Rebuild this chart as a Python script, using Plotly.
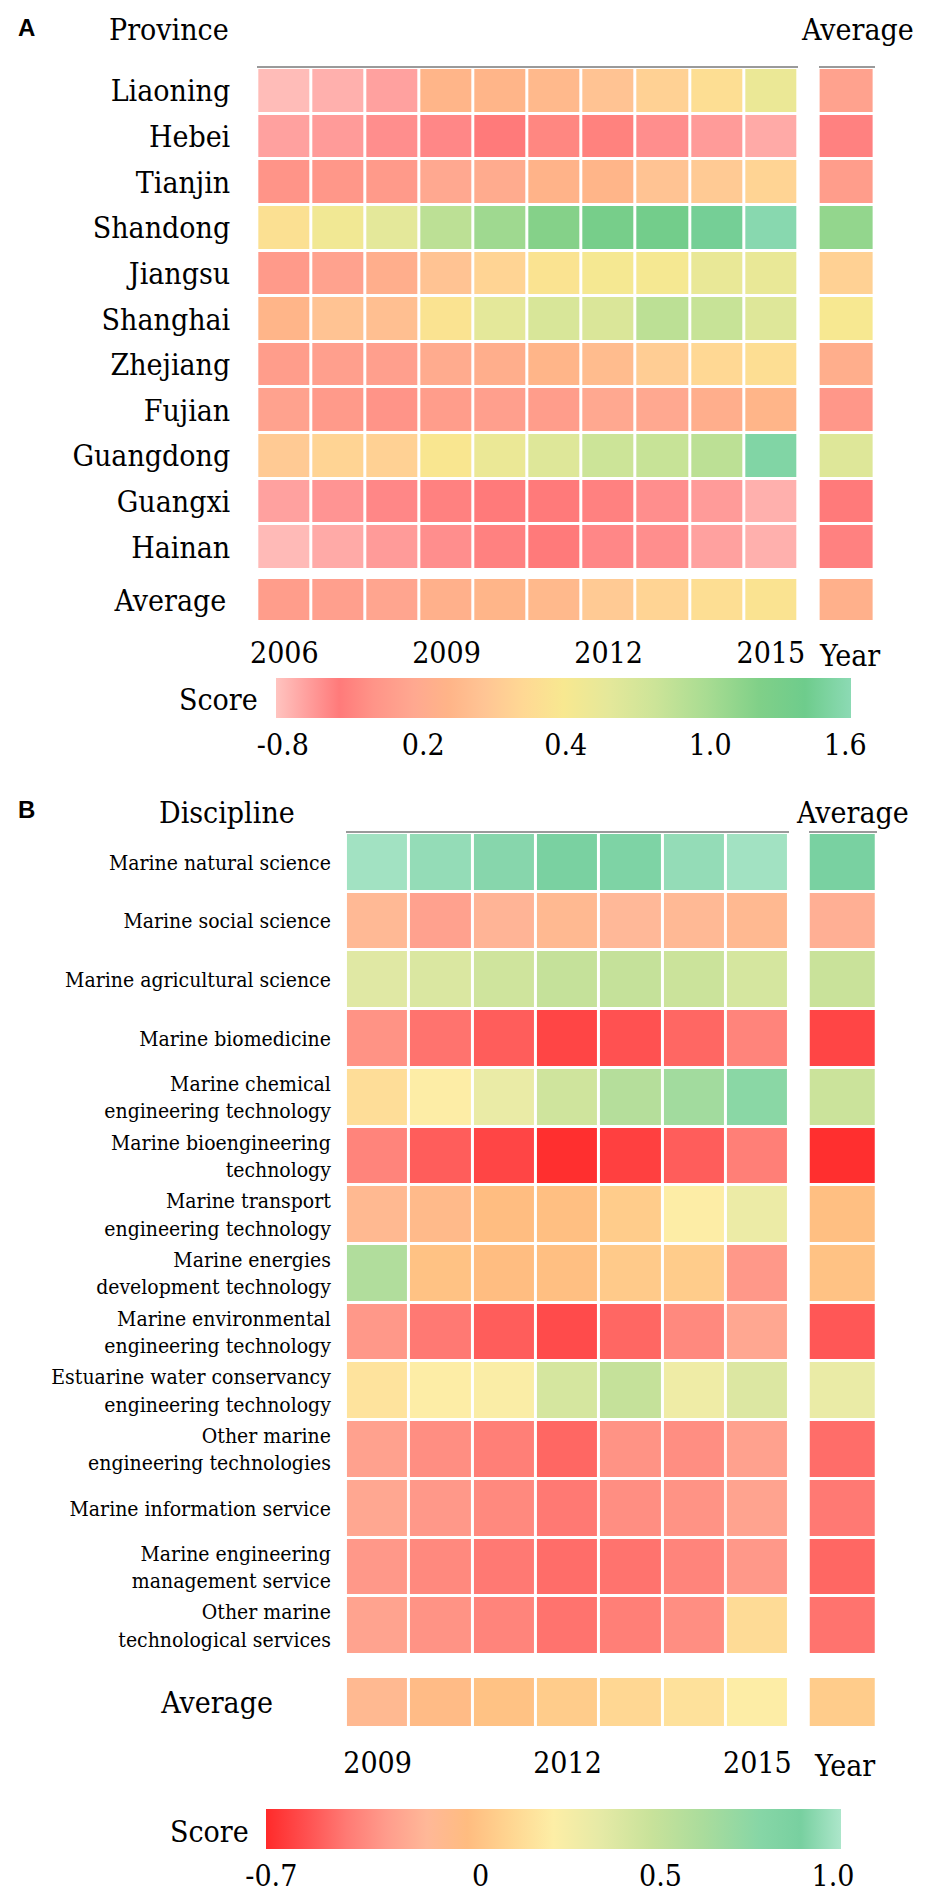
import numpy as np
import plotly.graph_objects as go

# ---------------- data: panel A (provinces) ----------------
years_a = list(range(2006, 2016))
provinces = ["Liaoning", "Hebei", "Tianjin", "Shandong", "Jiangsu", "Shanghai",
             "Zhejiang", "Fujian", "Guangdong", "Guangxi", "Hainan"]
scores_a = [
    [-0.80, -0.73, -0.64, 0.24, 0.24, 0.25, 0.28, 0.32, 0.36, 0.51],
    [-0.64, -0.60, -0.52, -0.48, -0.40, -0.28, -0.32, -0.52, -0.60, -0.69],
    [-0.15, -0.11, -0.07, 0.13, 0.20, 0.23, 0.24, 0.28, 0.30, 0.33],
    [0.37, 0.46, 0.58, 0.87, 1.04, 1.19, 1.32, 1.37, 1.47, 1.60],
    [-0.07, 0.05, 0.21, 0.28, 0.33, 0.38, 0.42, 0.42, 0.53, 0.53],
    [0.24, 0.28, 0.27, 0.38, 0.58, 0.68, 0.66, 0.87, 0.80, 0.63],
    [-0.03, 0.01, 0.01, 0.20, 0.21, 0.24, 0.26, 0.31, 0.34, 0.36],
    [0.05, -0.07, -0.15, -0.03, 0.01, -0.03, 0.13, 0.13, 0.21, 0.24],
    [0.30, 0.33, 0.32, 0.39, 0.51, 0.63, 0.77, 0.80, 0.87, 1.55],
    [-0.64, -0.56, -0.48, -0.44, -0.40, -0.40, -0.44, -0.52, -0.60, -0.73],
    [-0.79, -0.69, -0.60, -0.52, -0.44, -0.40, -0.48, -0.52, -0.64, -0.73],
]
avg_province = [0.05, -0.44, -0.03, 1.11, 0.32, 0.40, 0.21, -0.11, 0.63, -0.40, -0.44]
avg_year_a = [-0.03, 0.01, 0.09, 0.22, 0.24, 0.25, 0.30, 0.33, 0.36, 0.38]
avg_all_a = 0.22
year_ticks_a = [2006, 2009, 2012, 2015]

# colour bar of A: labels sit at these fractions of the bar
cbar_a_vals = [-0.8, 0.2, 0.4, 1.0, 1.6]
cbar_a_text = ["-0.8", "0.2", "0.4", "1.0", "1.6"]
cbar_a_pos = [0.012, 0.256, 0.504, 0.755, 0.99]

# ---------------- data: panel B (disciplines) ----------------
years_b = list(range(2009, 2016))
disciplines = [
    "Marine natural science",
    "Marine social science",
    "Marine agricultural science",
    "Marine biomedicine",
    "Marine chemical<br>engineering technology",
    "Marine bioengineering<br>technology",
    "Marine transport<br>engineering technology",
    "Marine energies<br>development technology",
    "Marine environmental<br>engineering technology",
    "Estuarine water conservancy<br>engineering technology",
    "Other marine<br>engineering technologies",
    "Marine information service",
    "Marine engineering<br>management service",
    "Other marine<br>technological services",
]
scores_b = [
    [1.00, 0.97, 0.94, 0.89, 0.92, 0.97, 1.00],
    [-0.16, -0.29, -0.20, -0.14, -0.18, -0.16, -0.14],
    [0.36, 0.39, 0.44, 0.49, 0.49, 0.46, 0.41],
    [-0.35, -0.47, -0.54, -0.62, -0.58, -0.51, -0.41],
    [0.12, 0.20, 0.31, 0.44, 0.57, 0.66, 0.77],
    [-0.41, -0.54, -0.62, -0.72, -0.64, -0.54, -0.43],
    [-0.14, -0.10, -0.04, -0.03, 0.04, 0.20, 0.30],
    [0.59, -0.01, -0.04, -0.03, 0.03, 0.04, -0.33],
    [-0.33, -0.45, -0.54, -0.60, -0.51, -0.39, -0.26],
    [0.15, 0.20, 0.22, 0.41, 0.49, 0.28, 0.38],
    [-0.29, -0.37, -0.43, -0.51, -0.35, -0.37, -0.29],
    [-0.26, -0.33, -0.39, -0.45, -0.37, -0.35, -0.28],
    [-0.33, -0.39, -0.45, -0.49, -0.47, -0.41, -0.33],
    [-0.28, -0.35, -0.41, -0.47, -0.43, -0.37, 0.11],
]
avg_discipline = [0.91, -0.22, 0.47, -0.62, 0.46, -0.70, -0.03, -0.01, -0.56, 0.31,
                  -0.49, -0.45, -0.51, -0.47]
avg_year_b = [-0.14, -0.08, -0.01, 0.04, 0.09, 0.14, 0.20]
avg_all_b = 0.04
year_ticks_b = [2009, 2012, 2015]

cbar_b_vals = [-0.7, 0.0, 0.5, 1.0]
cbar_b_text = ["-0.7", "0", "0.5", "1.0"]
cbar_b_pos = [0.009, 0.373, 0.686, 0.986]

# ---------------- styling ----------------
# the page body adds an 8px margin, so the figure is drawn 8px smaller and
# every reference pixel position is shifted by that offset
OFF = 8
W, H = 928 - OFF, 1892 - OFF
FONT = "DejaVu Serif Condensed, DejaVu Serif, Liberation Serif, serif"

SCALE_A = [
    [0.00, "#ffc4c0"], [0.05, "#ffa2a0"], [0.11, "#ff7a7a"], [0.17, "#ff9488"],
    [0.24, "#ffa890"], [0.30, "#ffb488"], [0.36, "#ffc494"], [0.43, "#ffd894"],
    [0.50, "#f8e890"], [0.58, "#e4e89a"], [0.66, "#cce498"], [0.75, "#a8dc92"],
    [0.84, "#80d088"], [0.92, "#6ecc8c"], [1.00, "#8cdab4"],
]
SCALE_B = [
    [0.00, "#ff2a2a"], [0.07, "#ff5050"], [0.14, "#ff7a74"], [0.21, "#ff9c8c"],
    [0.28, "#ffb898"], [0.35, "#ffbc80"], [0.42, "#ffd490"], [0.50, "#fdeea6"],
    [0.58, "#e6eaa6"], [0.67, "#c8e29a"], [0.76, "#aadc9c"], [0.86, "#86d6a6"],
    [0.93, "#78d0a0"], [1.00, "#ace6ca"],
]


def to_bar(values, vals, pos):
    # position of a score along the (non-linear) colour bar
    return np.interp(np.asarray(values, dtype=float), vals, pos)


def px(x):
    return (x - OFF) / W


def py(y):
    return 1 - (y - OFF) / H


def xdom(x0, x1):
    return [px(x0), px(x1)]


def ydom(y0, y1):
    return [py(y1), py(y0)]


fig = go.Figure()

za = lambda v: to_bar(v, cbar_a_vals, cbar_a_pos)
zb = lambda v: to_bar(v, cbar_b_vals, cbar_b_pos)

traces = [
    # (z, x, y, axis number, coloraxis)
    (za(scores_a), years_a, provinces, 1, "coloraxis"),
    (za(np.array(avg_province)[:, None]), ["Average"], provinces, 2, "coloraxis"),
    (za([avg_year_a]), years_a, ["Average"], 3, "coloraxis"),
    (za([[avg_all_a]]), ["Average"], ["Average"], 4, "coloraxis"),
    (zb(scores_b), years_b, disciplines, 5, "coloraxis2"),
    (zb(np.array(avg_discipline)[:, None]), ["Average"], disciplines, 6, "coloraxis2"),
    (zb([avg_year_b]), years_b, ["Average"], 7, "coloraxis2"),
    (zb([[avg_all_b]]), ["Average"], ["Average"], 8, "coloraxis2"),
]
for z, x, y, n, ca in traces:
    sfx = "" if n == 1 else str(n)
    fig.add_trace(go.Heatmap(
        z=z, x=x, y=y, xaxis="x" + sfx, yaxis="y" + sfx, coloraxis=ca,
        xgap=3, ygap=3, hoverinfo="skip",
    ))

domains = {
    1: (xdom(254, 803), ydom(68, 570)),
    2: (xdom(824, 881), ydom(68, 570)),
    3: (xdom(254, 803), ydom(578, 622)),
    4: (xdom(824, 881), ydom(578, 622)),
    5: (xdom(344, 794), ydom(833, 1655)),
    6: (xdom(814, 883), ydom(833, 1655)),
    7: (xdom(344, 794), ydom(1677, 1728)),
    8: (xdom(814, 883), ydom(1677, 1728)),
}

layout = dict(
    width=W, height=H,
    margin=dict(l=0, r=0, t=0, b=0),
    paper_bgcolor="white", plot_bgcolor="white",
    font=dict(family=FONT, size=30, color="black"),
    showlegend=False,
)
for n, (xd, yd) in domains.items():
    sfx = "" if n == 1 else str(n)
    xa = dict(domain=xd, anchor="y" + sfx, showgrid=False, zeroline=False,
              showticklabels=False, ticks="", fixedrange=True)
    if n in (1, 2, 5, 6):
        xa.update(side="top", showline=True, linecolor="#9a9a9a", linewidth=2)
    ya = dict(domain=yd, anchor="x" + sfx, showgrid=False, zeroline=False,
              autorange="reversed", ticks="", showticklabels=False, fixedrange=True)
    layout["xaxis" + sfx] = xa
    layout["yaxis" + sfx] = ya

# tick labels
layout["yaxis"].update(showticklabels=True, tickfont=dict(size=30), ticklabelstandoff=26)
layout["yaxis3"].update(showticklabels=True, tickfont=dict(size=30), ticklabelstandoff=30)
layout["xaxis3"].update(showticklabels=True, tickvals=year_ticks_a, tickfont=dict(size=30),
                        ticklabelstandoff=10)
layout["yaxis5"].update(showticklabels=True, tickfont=dict(size=21), ticklabelstandoff=14)
layout["yaxis7"].update(showticklabels=True, tickfont=dict(size=30), ticklabelstandoff=72)
layout["xaxis7"].update(showticklabels=True, tickvals=year_ticks_b, tickfont=dict(size=30),
                        ticklabelstandoff=14)

cbar_common = dict(orientation="h", lenmode="pixels", len=575, thickness=40,
                   xanchor="left", yanchor="top", xpad=0, ypad=0, outlinewidth=0,
                   ticks="", tickfont=dict(family=FONT, size=30))
layout["coloraxis"] = dict(
    colorscale=SCALE_A, cmin=0, cmax=1,
    colorbar=dict(x=px(273), y=py(678), tickvals=cbar_a_pos, ticktext=cbar_a_text,
                  **cbar_common),
)
layout["coloraxis2"] = dict(
    colorscale=SCALE_B, cmin=0, cmax=1,
    colorbar=dict(x=px(263), y=py(1809), tickvals=cbar_b_pos, ticktext=cbar_b_text,
                  **cbar_common),
)
fig.update_layout(**layout)


def label(text, x, y, size=30, family=FONT, bold=False, xanchor="center"):
    fig.add_annotation(
        text="<b>%s</b>" % text if bold else text,
        x=px(x), y=py(y), xref="paper", yref="paper",
        xanchor=xanchor, yanchor="middle", showarrow=False,
        font=dict(family=family, size=size, color="black"),
    )


PANEL_FONT = "Liberation Sans, Arial, sans-serif"
label("A", 9, 27, size=24, family=PANEL_FONT, bold=True, xanchor="left")
label("Province", 164, 30)
label("Average", 864, 30)
label("Year", 855, 655)
label("Score", 215, 700)

label("B", 9, 809, size=24, family=PANEL_FONT, bold=True, xanchor="left")
label("Discipline", 223, 812)
label("Average", 858, 812)
label("Year", 850, 1765)
label("Score", 205, 1831)

fig.write_html("out.html")
